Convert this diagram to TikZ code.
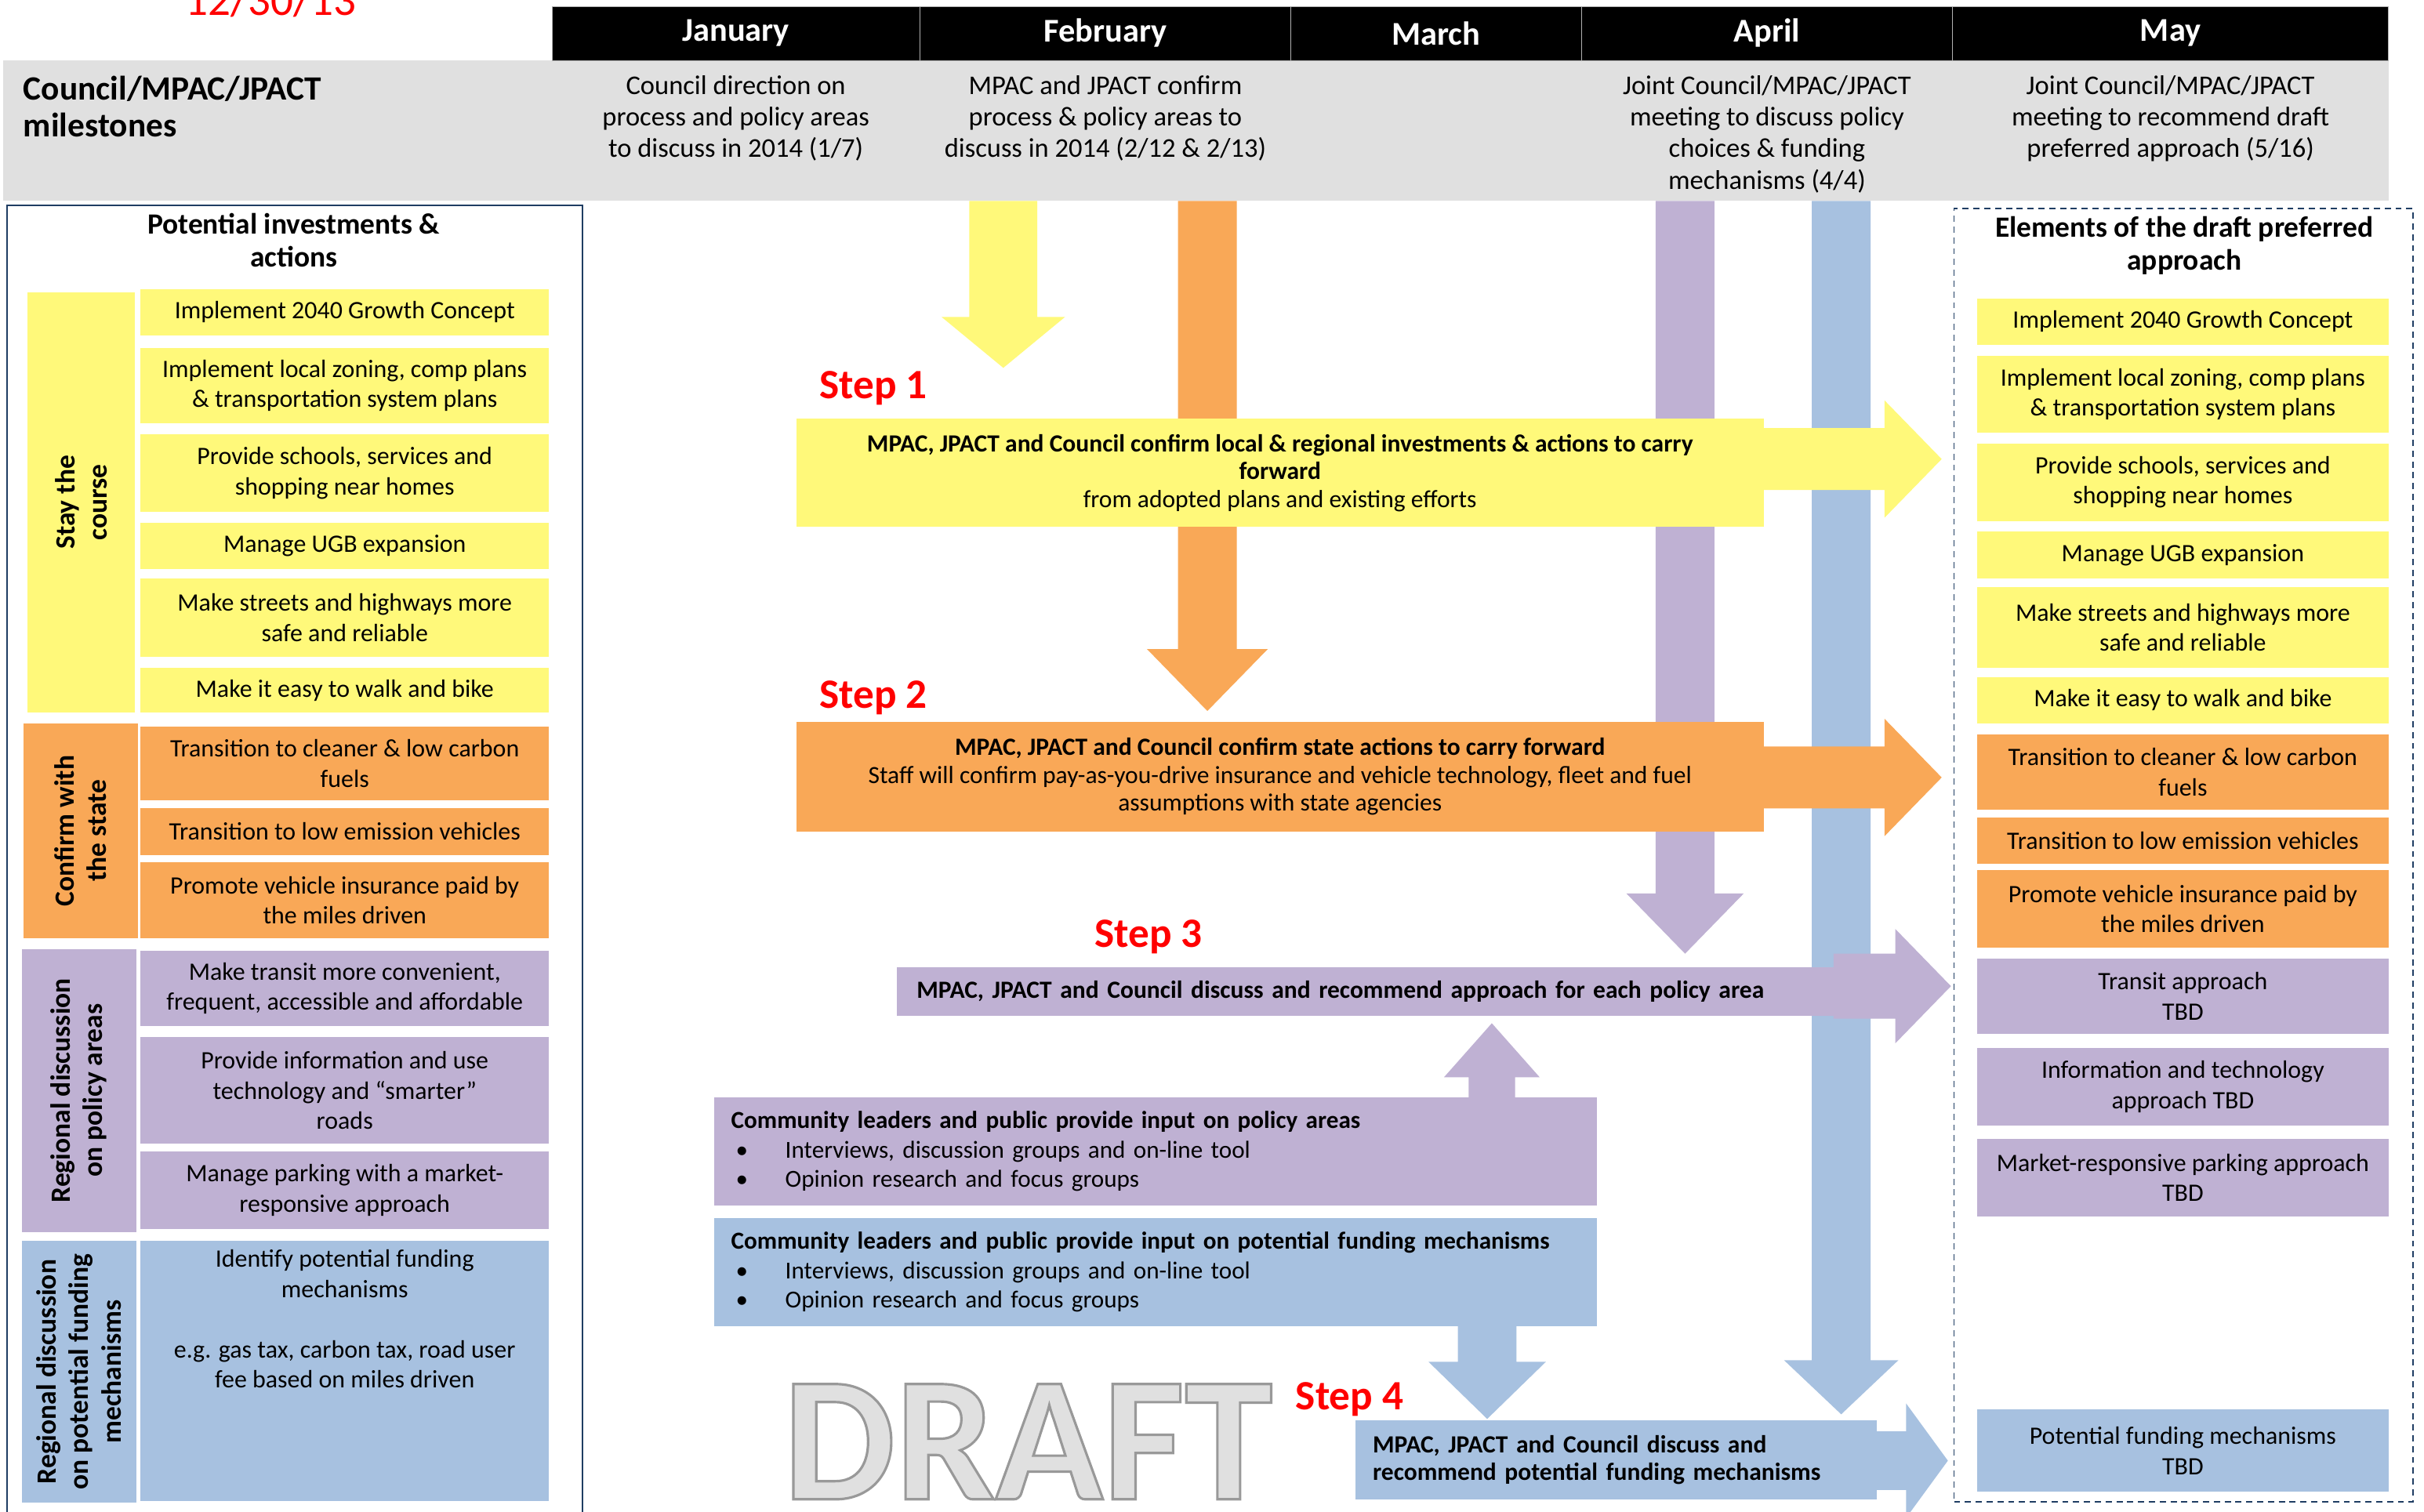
\documentclass[tikz,border=0pt]{standalone}
\usepackage{fontspec}
\setmainfont{Carlito}
\usetikzlibrary{positioning}

\definecolor{yel}{HTML}{FFF97A}
\definecolor{org}{HTML}{F9A857}
\definecolor{pur}{HTML}{BFB1D3}
\definecolor{blu}{HTML}{A7C1E0}
\definecolor{band}{HTML}{E0E0E0}
\definecolor{navy}{HTML}{1F3D63}
\definecolor{draftfill}{HTML}{E0E0E0}

\newcommand\bul{\hspace*{3pt}\makebox[32pt][l]{\textbullet}}
% block arrows: colour, x centre, y start, y head, y tip, shaft half width, head half width
\newcommand\blockdown[7]{\fill[#1] ({#2-#6},#3) -- ({#2+#6},#3) -- ({#2+#6},#4) -- ({#2+#7},#4) -- (#2,#5) -- ({#2-#7},#4) -- ({#2-#6},#4) -- cycle;}
% colour, y centre, x start, x head, x tip, shaft half width, head half width
\newcommand\blockright[7]{\fill[#1] (#3,{#2-#6}) -- (#4,{#2-#6}) -- (#4,{#2-#7}) -- (#5,#2) -- (#4,{#2+#7}) -- (#4,{#2+#6}) -- (#3,{#2+#6}) -- cycle;}

\tikzset{
  month/.style={fill=black, draw=gray!60, text=white, font=\bfseries\fontsize{21.5}{25}\selectfont, minimum height=35pt, inner sep=0pt, outer sep=0pt, anchor=west},
  milestone/.style={align=center, inner sep=0pt, font=\fontsize{17.5}{20.5}\selectfont},
  item/.style={align=center, inner sep=0pt, minimum width=264pt, font=\fontsize{16.2}{19.5}\selectfont},
  elem/.style={item, minimum width=266pt},
  cat/.style={rotate=90, align=center, inner sep=0pt, font=\bfseries\fontsize{18}{21}\selectfont},
  stepbox/.style={inner sep=0pt, align=center, font=\fontsize{16}{18}\selectfont},
  steplabel/.style={text=red, anchor=base, font=\bfseries\fontsize{27}{31}\selectfont},
  inputbox/.style={inner xsep=11pt, inner ysep=0pt, text width=549pt, minimum height=70pt, align=left, font=\fontsize{15.8}{19}\selectfont},
}

\begin{document}
\begin{tikzpicture}[x=1pt, y=-1pt]
\useasboundingbox (0,0) rectangle (1568,978);

% date
\node[text=red, anchor=base, inner sep=0, font=\fontsize{29}{34}\selectfont] (date) at (175,10) {12/30/13};

% milestones band and months
\node[fill=band, minimum width=1543pt, minimum height=91pt, inner sep=0] (band) at (773.5,84.5) {};
\node[month, minimum width=238pt] (jan) at (357,21.5) {January};
\node[month, minimum width=240pt] (feb) at (jan.east) {February};
\node[month, minimum width=188pt] (mar) at (feb.east) {March};
\node[month, minimum width=240pt] (apr) at (mar.east) {April};
\node[month, minimum width=282pt] (may) at (apr.east) {May};

\node[anchor=north west, align=left, inner sep=0, font=\bfseries\fontsize{22}{24}\selectfont] (bandtitle) at (15,49) {Council/MPAC/JPACT\\milestones};
\node[milestone, below=9.5pt of jan] (jannote) {Council direction on\\process and policy areas\\to discuss in 2014 (1/7)};
\node[milestone, below=9.5pt of feb] (febnote) {MPAC and JPACT confirm\\process \& policy areas to\\discuss in 2014 (2/12 \& 2/13)};
\node[milestone, below=9.5pt of apr] (aprnote) {Joint Council/MPAC/JPACT\\meeting to discuss policy\\choices \& funding\\mechanisms (4/4)};
\node[milestone, below=9.5pt of may] (maynote) {Joint Council/MPAC/JPACT\\meeting to recommend draft\\preferred approach (5/16)};

% potential investments & actions
\node[draw=navy, line width=1pt, minimum width=372.5pt, minimum height=857pt, inner sep=0] (investments) at (190.75,561.5) {};
\node[anchor=north, align=center, inner sep=0, font=\bfseries\fontsize{19}{21}\selectfont] (invtitle) at (190,138) {Potential investments \&\\actions};

\node[cat, fill=yel, minimum width=272pt, minimum height=69pt] (stay) at (52.5,325) {Stay the\\course};
\node[cat, fill=org, minimum width=139pt, minimum height=74pt] (state) at (52,537.5) {Confirm with\\the state};
\node[cat, fill=pur, minimum width=183pt, minimum height=74pt] (policy) at (51,705.5) {Regional discussion\\on policy areas};
\node[cat, fill=blu, minimum width=169pt, minimum height=74pt] (funding) at (51,887.5) {Regional discussion\\on potential funding\\mechanisms};

\node[item, fill=yel, minimum height=30pt] (l1) at (223,202) {Implement 2040 Growth Concept};
\node[item, fill=yel, minimum height=49pt] (l2) at (223,249.5) {Implement local zoning, comp plans\\\& transportation system plans};
\node[item, fill=yel, minimum height=50pt] (l3) at (223,306) {Provide schools, services and\\shopping near homes};
\node[item, fill=yel, minimum height=30pt] (l4) at (223,353) {Manage UGB expansion};
\node[item, fill=yel, minimum height=51pt] (l5) at (223,399.5) {Make streets and highways more\\safe and reliable};
\node[item, fill=yel, minimum height=29pt] (l6) at (223,446.5) {Make it easy to walk and bike};
\node[item, fill=org, minimum height=48pt] (l7) at (223,494) {Transition to cleaner \& low carbon\\fuels};
\node[item, fill=org, minimum height=30pt] (l8) at (223,538) {Transition to low emission vehicles};
\node[item, fill=org, minimum height=49pt] (l9) at (223,582.5) {Promote vehicle insurance paid by\\the miles driven};
\node[item, fill=pur, minimum height=49pt] (l10) at (223,639.5) {Make transit more convenient,\\frequent, accessible and affordable};
\node[item, fill=pur, minimum height=69pt] (l11) at (223,705.5) {Provide information and use\\technology and “smarter”\\roads};
\node[item, fill=pur, minimum height=50pt] (l12) at (223,770) {Manage parking with a market-\\responsive approach};
\node[item, fill=blu, minimum height=168pt] (l13) at (223,887) {};
\node[item, anchor=north, minimum width=0pt] (l13text) at (223,808.5) {Identify potential funding\\mechanisms\\[19.5pt]e.g. gas tax, carbon tax, road user\\fee based on miles driven};

% elements of the draft preferred approach
\node[draw=navy, dash pattern=on 4pt off 3pt, line width=0.9pt, minimum width=297pt, minimum height=836.5pt, inner sep=0] (elements) at (1412.5,553.25) {};
\node[anchor=north, align=center, inner sep=0, font=\bfseries\fontsize{19}{21}\selectfont] (elemtitle) at (1413,140) {Elements of the draft preferred\\approach};

\node[elem, fill=yel, minimum height=30pt] (r1) at (1412,208) {Implement 2040 Growth Concept};
\node[elem, fill=yel, minimum height=50pt] (r2) at (1412,255) {Implement local zoning, comp plans\\\& transportation system plans};
\node[elem, fill=yel, minimum height=50pt] (r3) at (1412,312) {Provide schools, services and\\shopping near homes};
\node[elem, fill=yel, minimum height=30pt] (r4) at (1412,359) {Manage UGB expansion};
\node[elem, fill=yel, minimum height=52pt] (r5) at (1412,406) {Make streets and highways more\\safe and reliable};
\node[elem, fill=yel, minimum height=30pt] (r6) at (1412,453) {Make it easy to walk and bike};
\node[elem, fill=org, minimum height=49pt] (r7) at (1412,499.5) {Transition to cleaner \& low carbon\\fuels};
\node[elem, fill=org, minimum height=30pt] (r8) at (1412,544) {Transition to low emission vehicles};
\node[elem, fill=org, minimum height=50pt] (r9) at (1412,588) {Promote vehicle insurance paid by\\the miles driven};
\node[elem, fill=pur, minimum height=49pt] (r10) at (1412,644.5) {Transit approach\\TBD};
\node[elem, fill=pur, minimum height=50pt] (r11) at (1412,703) {Information and technology\\approach TBD};
\node[elem, fill=pur, minimum height=50pt] (r12) at (1412,762) {Market-responsive parking approach\\TBD};
\node[elem, fill=blu, minimum height=53pt] (r13) at (1412,938.5) {Potential funding mechanisms\\TBD};

% month arrows
\blockdown{yel}{649}{130}{205}{238}{22}{40}
\blockdown{org}{781}{130}{420}{460}{19}{39}
\blockdown{pur}{1090}{130}{578}{617}{19}{38}
\blockdown{blu}{1191}{130}{880}{915}{19}{37}

% step arrows into the draft approach
\blockright{yel}{297}{1130}{1219}{1256}{20}{38}
\blockright{org}{503}{1130}{1219}{1256}{20}{38}
\blockright{pur}{638}{1186}{1226}{1262}{21}{37}
\blockright{blu}{945}{1205}{1233}{1260}{19}{37}

\node[stepbox, fill=yel, minimum width=626pt, minimum height=70pt] (step1) at (828,306) {\textbf{MPAC, JPACT and Council confirm local \& regional investments \& actions to carry}\\\textbf{forward}\\from adopted plans and existing efforts};
\node[stepbox, fill=org, minimum width=626pt, minimum height=71pt] (step2) at (828,502.5) {\textbf{MPAC, JPACT and Council confirm state actions to carry forward}\\Staff will confirm pay-as-you-drive insurance and vehicle technology, fleet and fuel\\assumptions with state agencies};
\node[stepbox, fill=pur, align=left, inner xsep=13pt, text width=582pt, minimum height=31pt] (step3) at (884,641.5) {\textbf{MPAC, JPACT and Council discuss and recommend approach for each policy area}};
\node[stepbox, fill=blu, align=left, inner xsep=11pt, text width=315pt, minimum height=51pt] (step4) at (1045.5,944.5) {\textbf{MPAC, JPACT and Council discuss and}\\\textbf{recommend potential funding mechanisms}};

% community input
\node[inputbox, fill=pur] (policyinput) at (747.5,745) {\textbf{Community leaders and public provide input on policy areas}\\\bul Interviews, discussion groups and on-line tool\\\bul Opinion research and focus groups};
\node[inputbox, fill=blu] (fundinput) at (747.5,823) {\textbf{Community leaders and public provide input on potential funding mechanisms}\\\bul Interviews, discussion groups and on-line tool\\\bul Opinion research and focus groups};
\blockdown{pur}{965}{711}{697}{662}{15}{31}
\blockdown{blu}{962}{857}{881}{918}{19}{38}

% step labels
\node[steplabel] (s1) at (565,258) {Step 1};
\node[steplabel] (s2) at (565,458) {Step 2};
\node[steplabel] (s3) at (743,613) {Step 3};
\node[steplabel] (s4) at (873,912) {Step 4};

% watermark
\node[anchor=base, inner sep=0, font=\bfseries\fontsize{115}{115}\selectfont] (draft) at (665,970) {\textcolor{draftfill}{\special{pdf:literal direct 0.6 0.6 0.6 RG 1.6 w 2 Tr}DRAFT\special{pdf:literal direct 0 Tr}}};
\end{tikzpicture}
\end{document}
